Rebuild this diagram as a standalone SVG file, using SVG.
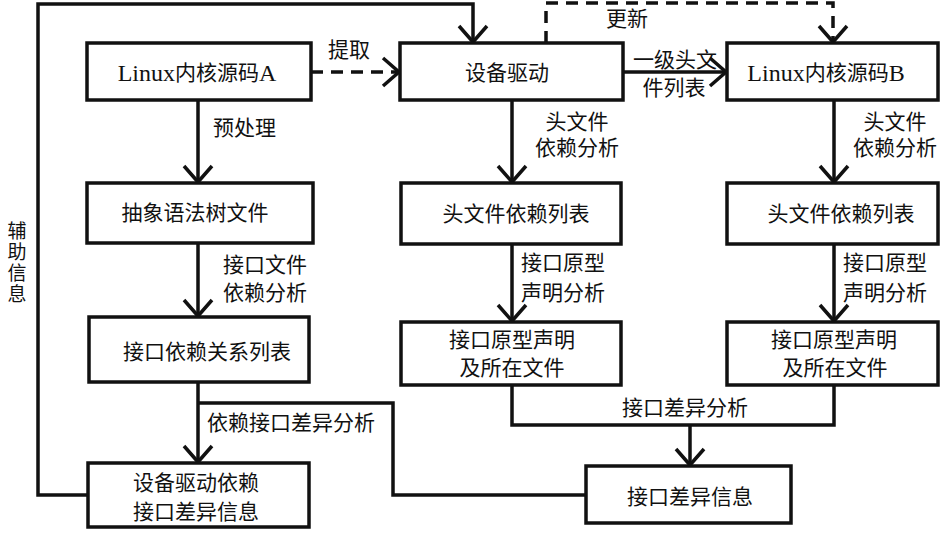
<svg xmlns="http://www.w3.org/2000/svg" width="946" height="533" viewBox="0 0 946 533">
<style>
.box{fill:#fff;stroke:#111;stroke-width:3.5}
.t{font-family:"Liberation Serif","Noto Sans CJK SC",serif;font-size:21px;fill:#111;dominant-baseline:central}
.c{text-anchor:middle}
.v{font-size:19px}
.lat{font-size:24px}
.ln{fill:none;stroke:#111;stroke-width:3.5}
.dash{stroke-dasharray:12 8}
</style>
<defs>
<marker id="ah" markerUnits="userSpaceOnUse" markerWidth="22" markerHeight="32" viewBox="0 0 22 32" refX="19" refY="16" orient="auto">
<path d="M3,2 L19,16 L3,30" fill="none" stroke="#111" stroke-width="3.5"/>
</marker>
</defs>
<g id="connectors">
<path class="ln" d="M88 495 L38 495 L38 4 L473 4 L473 42" marker-end="url(#ah)"/>
<path class="ln dash" d="M546 43 L546 3 L833 3 L833 42" marker-end="url(#ah)"/>
<path class="ln dash" d="M311 72 L399 72" marker-end="url(#ah)"/>
<path class="ln" d="M623 72 L726 72" marker-end="url(#ah)"/>
<path class="ln" d="M198 100 L198 182" marker-end="url(#ah)"/>
<path class="ln" d="M198 243 L198 316" marker-end="url(#ah)"/>
<path class="ln" d="M198 382 L198 462" marker-end="url(#ah)"/>
<path class="ln" d="M198 403 L393 403 L393 495 L586 495"/>
<path class="ln" d="M512 100 L512 182" marker-end="url(#ah)"/>
<path class="ln" d="M512 244 L512 321" marker-end="url(#ah)"/>
<path class="ln" d="M834 100 L834 182" marker-end="url(#ah)"/>
<path class="ln" d="M834 244 L834 321" marker-end="url(#ah)"/>
<path class="ln" d="M512 385 L512 425 L834 425 L834 385"/>
<path class="ln" d="M690 425 L690 465" marker-end="url(#ah)"/>
<text class="t c" x="349" y="50">提取</text>
<text class="t c" x="627" y="19">更新</text>
<text class="t c" x="675" y="60">一级头文</text>
<text class="t c" x="674" y="88">件列表</text>
<text class="t" x="213" y="128">预处理</text>
<text class="t" x="223" y="265">接口文件</text>
<text class="t" x="223" y="293">依赖分析</text>
<text class="t" x="207" y="423">依赖接口差异分析</text>
<text class="t c" x="577" y="122">头文件</text>
<text class="t c" x="577" y="148">依赖分析</text>
<text class="t c" x="895" y="122">头文件</text>
<text class="t c" x="895" y="148">依赖分析</text>
<text class="t" x="521" y="263">接口原型</text>
<text class="t" x="521" y="293">声明分析</text>
<text class="t" x="843" y="263">接口原型</text>
<text class="t" x="843" y="293">声明分析</text>
<text class="t c" x="685" y="408">接口差异分析</text>
<text class="t c v" x="17" y="231">辅</text>
<text class="t c v" x="17" y="252">助</text>
<text class="t c v" x="17" y="273">信</text>
<text class="t c v" x="17" y="294">息</text>
</g>
<g id="linuxA">
<rect class="box" x="87" y="43" width="224" height="57"/>
<text class="t c" x="197" y="73"><tspan class="lat">Linux</tspan>内核源码<tspan class="lat">A</tspan></text>
</g>
<g id="driver">
<rect class="box" x="400" y="43" width="223" height="57"/>
<text class="t c" x="507" y="73">设备驱动</text>
</g>
<g id="linuxB">
<rect class="box" x="727" y="43" width="211" height="57"/>
<text class="t c" x="826" y="73"><tspan class="lat">Linux</tspan>内核源码<tspan class="lat">B</tspan></text>
</g>
<g id="ast">
<rect class="box" x="87" y="183" width="226" height="60"/>
<text class="t c" x="195" y="213">抽象语法树文件</text>
</g>
<g id="ifdeps">
<rect class="box" x="89" y="317" width="220" height="65"/>
<text class="t c" x="207" y="352">接口依赖关系列表</text>
</g>
<g id="drvdiff">
<rect class="box" x="88" y="463" width="221" height="64"/>
<text class="t c" x="196" y="483">设备驱动依赖</text>
<text class="t c" x="196" y="512">接口差异信息</text>
</g>
<g id="hdrA">
<rect class="box" x="401" y="183" width="220" height="61"/>
<text class="t c" x="516" y="214">头文件依赖列表</text>
</g>
<g id="protoA">
<rect class="box" x="401" y="322" width="220" height="63"/>
<text class="t c" x="512" y="340">接口原型声明</text>
<text class="t c" x="512" y="368">及所在文件</text>
</g>
<g id="hdrB">
<rect class="box" x="727" y="183" width="211" height="61"/>
<text class="t c" x="841" y="214">头文件依赖列表</text>
</g>
<g id="protoB">
<rect class="box" x="727" y="322" width="211" height="63"/>
<text class="t c" x="834" y="340">接口原型声明</text>
<text class="t c" x="835" y="368">及所在文件</text>
</g>
<g id="ifdiff">
<rect class="box" x="586" y="466" width="205" height="57"/>
<text class="t c" x="690" y="497">接口差异信息</text>
</g>
</svg>
